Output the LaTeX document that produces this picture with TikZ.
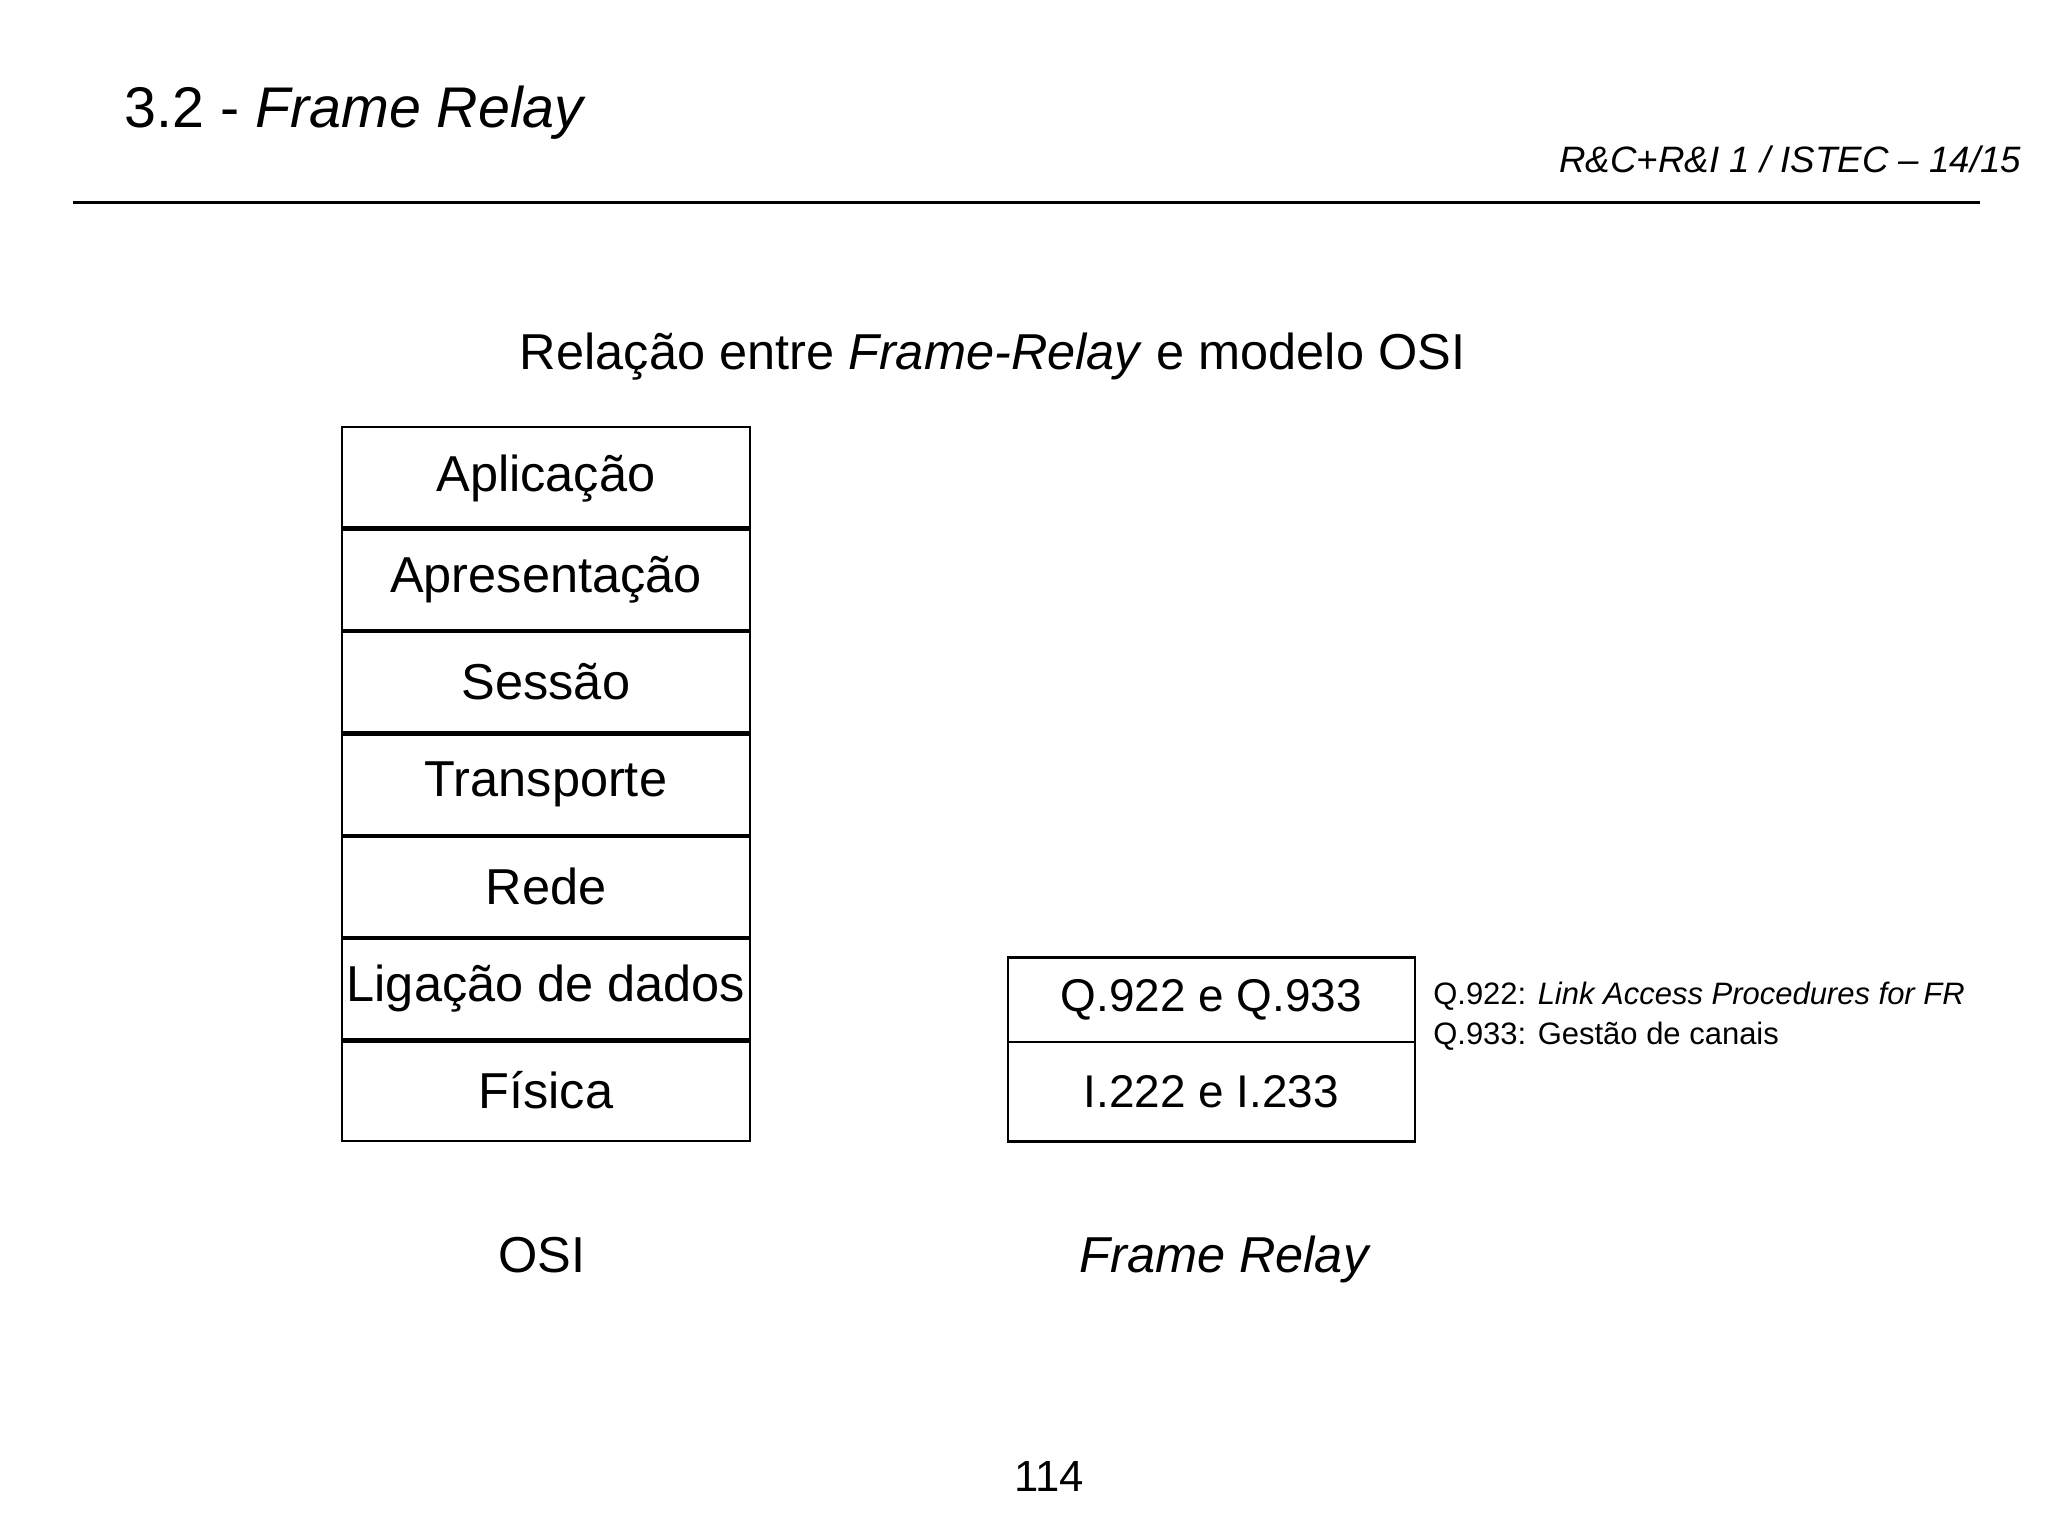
\documentclass[tikz,border=0pt]{standalone}
\usepackage{fontspec}
\setmainfont{Liberation Sans}
\begin{document}
\begin{tikzpicture}[x=0.02cm,y=-0.02cm,
  layer/.style={draw,line width=1pt,minimum width=312*0.02cm,minimum height=78*0.02cm,inner sep=0pt,font=\fontsize{22}{24}\selectfont},
  big/.style={font=\fontsize{22}{24}\selectfont,inner sep=0pt}]
\useasboundingbox (0,0) rectangle (1568,1176);
\node[anchor=base west,inner sep=0pt,font=\fontsize{25}{28}\selectfont] (title) at (95,98) {3.2 - \textit{Frame Relay}};
\node[anchor=base east,inner sep=0pt,font=\fontsize{16}{18}\selectfont] (hdr) at (1548,132) {\textit{R\&C+R\&I 1 / ISTEC – 14/15}};
\draw[line width=1pt] (56,155) -- (1516,155);
\node[big,anchor=base] (sub) at (760,283) {Relação entre \textit{Frame-Relay} e modelo OSI};
\foreach \t [count=\i] in {Aplicação,Apresentação,Sessão,Transporte,Rede,Ligação de dados,Física}{
  \node[layer] (L\i) at (418,{327+78.1*(\i-0.5)}) {\t};
}
\foreach \y in {404.5,483,561.5,640,718,796.5}{\draw[line width=2pt] (262,\y)--(574,\y);}
\node[layer,minimum height=65*0.02cm] (Q) at (927.5,765.5) {\fontsize{20}{22}\selectfont Q.922 e Q.933};
\node[layer,minimum height=76*0.02cm] (I) at (927.5,836) {\fontsize{20}{22}\selectfont I.222 e I.233};
\node[anchor=base west,inner sep=0pt,font=\fontsize{13.5}{15}\selectfont] (n1) at (1097,769) {Q.922: \textit{Link Access Procedures for FR}};
\node[anchor=base west,inner sep=0pt,font=\fontsize{13.5}{15}\selectfont] (n2) at (1097,800) {Q.933: Gestão de canais};
\node[big,anchor=base] (osi) at (415,974) {OSI};
\node[big,anchor=base] (fr) at (938,974) {\textit{Frame Relay}};
\node[big,anchor=base,font=\fontsize{19}{20}\selectfont] (pg) at (803,1142) {114};
\end{tikzpicture}
\end{document}
